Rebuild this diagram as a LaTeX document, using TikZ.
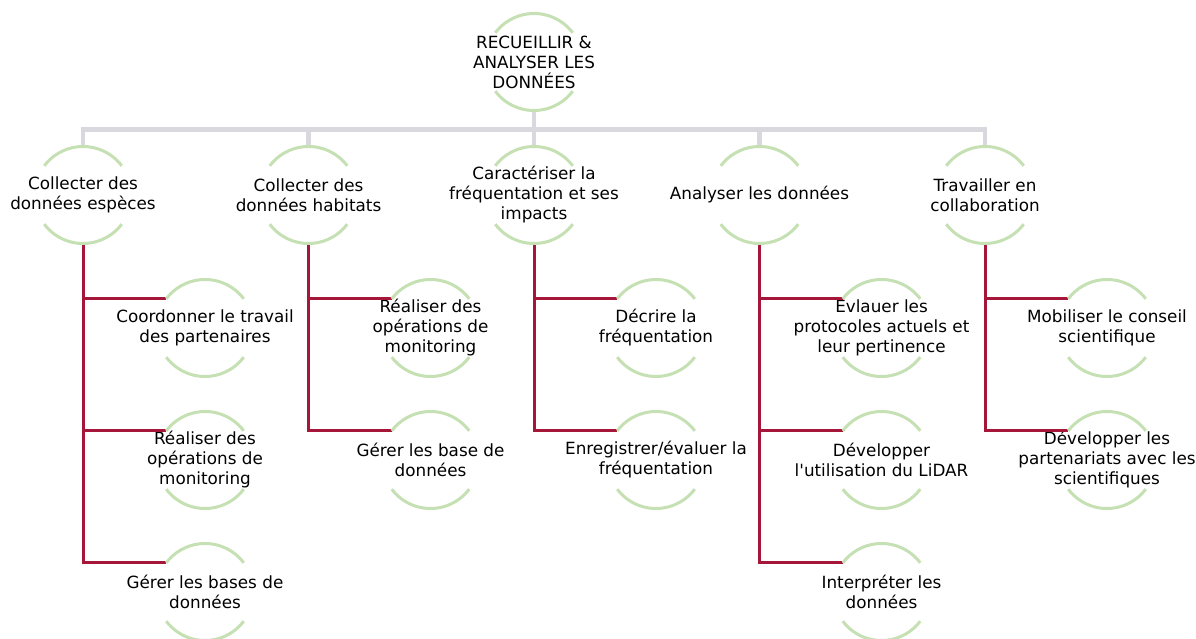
\documentclass[tikz,border=0pt]{standalone}
\usepackage{fontspec}
\setmainfont{DejaVu Sans}
\usetikzlibrary{positioning}
\definecolor{ringgreen}{RGB}{197,224,178}
\definecolor{linkred}{RGB}{165,22,56}
\definecolor{busgray}{RGB}{216,216,222}

\begin{document}
\begin{tikzpicture}[node distance=225.5pt,on grid,
    task/.style={align=center,inner sep=0pt,font=\fontsize{16.8pt}{20pt}\selectfont},
    ring/.style={draw=ringgreen,line width=3pt},
    bus/.style={draw=busgray,line width=4.5pt},
    branch/.style={draw=linkred,line width=3pt}]
        \useasboundingbox (0,0) rectangle (1196pt,-639pt);
        % top and themes
        \node[task] (top) at (534pt,-62pt) {RECUEILLIR \&\\ANALYSER LES\\DONNÉES};
        \node[task] (c3) [below=133pt of top] {Caractériser la\\fréquentation et ses\\impacts};
        \node[task] (c2) [left=of c3] {Collecter des\\données habitats};
        \node[task] (c1) [left=of c2] {Collecter des\\données espèces};
        \node[task] (c4) [right=of c3] {Analyser les données};
        \node[task] (c5) [right=of c4] {Travailler en\\collaboration};
        % actions
        \node[task] (c1a) [below right=133pt and 122pt of c1] {Coordonner le travail\\des partenaires};
        \node[task] (c1b) [below=132pt of c1a] {Réaliser des\\opérations de\\monitoring};
        \node[task] (c1c) [below=132pt of c1b] {Gérer les bases de\\données};
        \node[task] (c2a) [below right=133pt and 122pt of c2] {Réaliser des\\opérations de\\monitoring};
        \node[task] (c2b) [below=132pt of c2a] {Gérer les base de\\données};
        \node[task] (c3a) [below right=133pt and 122pt of c3] {Décrire la\\fréquentation};
        \node[task] (c3b) [below=132pt of c3a] {Enregistrer/évaluer la\\fréquentation};
        \node[task] (c4a) [below right=133pt and 122pt of c4] {Evlauer les\\protocoles actuels et\\leur pertinence};
        \node[task] (c4b) [below=132pt of c4a] {Développer\\l\textquotesingle utilisation du LiDAR};
        \node[task] (c4c) [below=132pt of c4b] {Interpréter les\\données};
        \node[task] (c5a) [below right=133pt and 122pt of c5] {Mobiliser le conseil\\scientifique};
        \node[task] (c5b) [below=132pt of c5a] {Développer les\\partenariats avec les\\scientifiques};
        % grey bus
        \coordinate[below=67.5pt of top] (hub);
        \draw[bus] (top.center) ++(0,-48.5pt) -- (hub);
        \foreach \n in {c1,c2,c3,c4,c5}
            \draw[bus] (hub) -| ([yshift=48.5pt]\n.center);
        % red branches
        \foreach \p/\k in {c1/c1a,c1/c1b,c1/c1c,c2/c2a,c2/c2b,c3/c3a,c3/c3b,
                           c4/c4a,c4/c4b,c4/c4c,c5/c5a,c5/c5b}
            \draw[branch] (\p.center) ++(0,-48.5pt) |- ([shift={(143:48.5pt)}]\k.center);
        % rings
        \foreach \n in {top,c1,c2,c3,c4,c5,c1a,c1b,c1c,c2a,c2b,c3a,c3b,c4a,c4b,c4c,c5a,c5b}
            \draw[ring] (\n.center) ++(37:48.5pt) arc[start angle=37,end angle=143,radius=48.5pt]
                        (\n.center) ++(217:48.5pt) arc[start angle=217,end angle=323,radius=48.5pt];
\end{tikzpicture}
\end{document}
